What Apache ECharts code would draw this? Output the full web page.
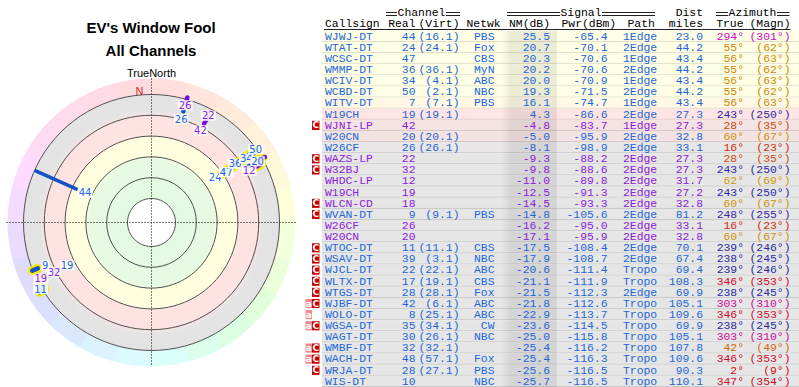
<!DOCTYPE html>
<html>
<head>
<meta charset="utf-8">
<title>EV's Window Fool</title>
<script src="https://cdn.jsdelivr.net/npm/echarts@6/dist/echarts.min.js"></script>
<style>
html,body{margin:0;padding:0;background:#ffffff;}
#chart{width:799px;height:387px;}
</style>
</head>
<body>
<div id="chart"></div>
<script>
// ---------------- DATA ----------------
const callsigns = ['WJWJ-DT','WTAT-DT','WCSC-DT','WMMP-DT','WCIV-DT','WCBD-DT','WITV-DT','W19CH','WJNI-LP','W20CN','W26CF','WAZS-LP','W32BJ','WHDC-LP','W19CH','WLCN-CD','WVAN-DT','W26CF','W20CN','WTOC-DT','WSAV-DT','WJCL-DT','WLTX-DT','WTGS-DT','WJBF-DT','WOLO-DT','WGSA-DT','WAGT-DT','WMBF-DT','WACH-DT','WRJA-DT','WIS-DT'];
const realCh = [44,24,47,36,34,50,7,19,42,20,26,22,32,12,19,18,9,26,20,11,39,22,17,28,42,8,35,30,32,48,28,10];
const virtCh = ['16.1','24.1','','36.1','4.1','2.1','7.1','19.1','','20.1','26.1','','','','','','9.1','','','11.1','3.1','22.1','19.1','28.1','6.1','25.1','34.1','26.1','32.1','57.1','27.1',''];
const networks = ['PBS','Fox','CBS','MyN','ABC','NBC','PBS','','','','','','','','','','PBS','','','CBS','NBC','ABC','CBS','Fox','ABC','ABC','CW','NBC','','Fox','PBS','NBC'];
const nmDb = [25.5,20.7,20.3,20.2,20.0,19.3,16.1,4.3,-4.8,-5.0,-8.1,-9.3,-9.8,-11.0,-12.5,-14.5,-14.8,-16.2,-17.1,-17.5,-17.9,-20.6,-21.1,-21.5,-21.8,-22.9,-23.6,-25.0,-25.4,-25.4,-25.6,-25.7];
const pwrDbm = [-65.4,-70.1,-70.6,-70.6,-70.9,-71.5,-74.7,-86.6,-83.7,-95.9,-98.9,-88.2,-88.6,-89.8,-91.3,-93.3,-105.6,-95.0,-95.9,-108.4,-108.7,-111.4,-111.9,-112.3,-112.6,-113.7,-114.5,-115.8,-116.2,-116.3,-116.5,-116.5];
const paths = ['1Edge','2Edge','1Edge','2Edge','1Edge','2Edge','1Edge','2Edge','1Edge','2Edge','2Edge','2Edge','2Edge','2Edge','2Edge','2Edge','2Edge','2Edge','2Edge','2Edge','2Edge','Tropo','Tropo','2Edge','Tropo','Tropo','Tropo','Tropo','Tropo','Tropo','Tropo','Tropo'];
const distMiles = [23.0,44.2,43.4,44.2,43.4,44.2,43.4,27.3,27.3,32.8,33.1,27.3,27.3,31.7,27.2,32.8,81.2,33.1,32.8,70.1,67.4,69.4,108.3,69.9,105.1,109.6,69.9,105.1,107.8,109.6,90.3,110.1];
const azTrue = [294,55,56,55,56,55,56,243,28,60,16,28,243,62,243,60,248,16,60,239,238,239,346,238,303,346,238,303,42,346,2,347];
const azMagn = [301,62,63,62,63,62,63,250,35,67,23,35,250,69,250,67,255,23,67,246,245,246,353,245,310,353,245,310,49,353,9,354];
const rowKind = ['b','b','b','b','b','b','b','b','p','b','b','p','p','p','p','p','b','p','p','b','b','b','b','b','b','b','b','b','b','b','b','b'];
const flags = ['','','','','','','','','C','','','C','C','','','C','C','','','C','C','C','C','C','aC','a','aC','','aC','aC','C',''];
const highlighted = ['WTAT-DT','WCSC-DT','WMMP-DT','WCIV-DT','WCBD-DT','WITV-DT','WHDC-LP','WLCN-CD','WVAN-DT','WTOC-DT','WSAV-DT'];
const ringLevels = [80, 60, 40, 20, 0, -20];   // NM(dB) rings of the polar plot
const strongDb = 10;                            // stations drawn as a ray to the outer ring

// ---------------- HELPERS ----------------
const MONO = '"Liberation Mono", "DejaVu Sans Mono", monospace';
const SANS = '"Liberation Sans", Arial, sans-serif';
const FS = 11.4;
const TXT_BLUE = '#1c66da', TXT_PURPLE = '#8a1cdc';
const MARK_BLUE = '#1552c6', MARK_PURPLE = '#7412cf';
const HALO = '#f2ec00';

function toHex(c){return '#'+c.map(v=>Math.round(Math.max(0,Math.min(255,v))).toString(16).padStart(2,'0')).join('');}
function fromHex(h){return [1,3,5].map(k=>parseInt(h.slice(k,k+2),16));}
function interp1(anchors, x){
  if (x <= anchors[0][0]) return anchors[0][1];
  for (let k=1;k<anchors.length;k++){ if (x<=anchors[k][0]){ const a=anchors[k-1], b=anchors[k]; return a[1]+(b[1]-a[1])*(x-a[0])/(b[0]-a[0]); } }
  return anchors[anchors.length-1][1];
}
function interpColor(stops, x){
  if (x <= stops[0][0]) return stops[0][1];
  for (let k=1;k<stops.length;k++){ if (x<=stops[k][0]){ const t=(x-stops[k-1][0])/(stops[k][0]-stops[k-1][0]); const a=fromHex(stops[k-1][1]), b=fromHex(stops[k][1]); return toHex(a.map((v,j)=>v+(b[j]-v)*t)); } }
  return stops[stops.length-1][1];
}
function hslHex(h,s,l){ s/=100; l/=100; const a=s*Math.min(l,1-l); const f=n=>{const k=(n+h/30)%12; return l-a*Math.max(-1,Math.min(k-3,9-k,1));}; return toHex([f(0),f(8),f(4)].map(v=>v*255)); }
const HUE_ANCHORS = [[0,0],[60,42],[120,100],[180,180],[240,240],[290,296],[305,318],[360,360]];
function azHue(az){ return interp1(HUE_ANCHORS, az) % 360; }
function azTextColor(az){ const h=azHue(az); return (h>=190 && h<=285) ? hslHex(h,62,40) : hslHex(h,92,42); }
function azPastel(az){ return hslHex(azHue(az),100,93); }
const ROW_BG = [[-8.5,'#e6e6e6'],[-4.5,'#f6e3e3'],[3,'#ffe4e4'],[12,'#ffebe4'],[18,'#ffffe6']];
function rowBg(nm){ return interpColor(ROW_BG, nm); }

const rowsIdx = callsigns.map((_,i)=>i);
const plotFloorDb = ringLevels[ringLevels.length-1];
const plotIdx = rowsIdx.filter(i => nmDb[i] >= plotFloorDb);
const hueSectors = []; for (let a=0; a<360; a+=15) hueSectors.push(a);

// ---------------- POLAR RENDERERS ----------------
function radOf(api, cs, db){ const p=api.coord([-db,0]); return Math.hypot(p[0]-cs.cx, p[1]-cs.cy); }

function renderBands(params, api){
  const cs=params.coordSys, cx=cs.cx, cy=cs.cy;
  const R = radOf(api, cs, plotFloorDb);
  const f = db => radOf(api, cs, db)/R;
  const stops = [
    [0,'#ffffff'],[f(80),'#ffffff'],[f(80)+0.003,'#e2fae2'],
    [f(40)-3/R,'#e7fbe2'],[f(40)+2/R,'#ffffe0'],
    [f(20)-2/R,'#ffffe0'],[f(20)+2/R,'#ffe3e3'],
    [f(0)-2/R,'#ffe3e3'],[f(0)+5/R,'#e4e4e4'],[1,'#e3e3e3']
  ].map(s=>({offset:Math.max(0,Math.min(1,s[0])), color:s[1]}));
  return {type:'circle', shape:{cx, cy, r:R}, silent:true,
    style:{fill:{type:'radial', x:cx, y:cy, r:R, global:true, colorStops:stops}}};
}
function renderHue(params, api){
  const cs=params.coordSys;
  const a0 = api.value(1);
  const R0 = radOf(api, cs, plotFloorDb);
  const s = (a0-90)*Math.PI/180, e = (a0+15-90)*Math.PI/180 + 0.004;
  return {type:'sector', silent:true, shape:{cx:cs.cx, cy:cs.cy, r0:R0, r:cs.r, startAngle:s, endAngle:e, clockwise:true},
    style:{fill: azPastel(a0+7.5)}};
}
function renderRings(params, api){
  const cs=params.coordSys;
  const r = radOf(api, cs, -api.value(0));
  return {type:'circle', silent:true, shape:{cx:cs.cx, cy:cs.cy, r}, style:{fill:'none', stroke:'#505050', lineWidth:1}};
}
function renderCross(params, api){
  const cs=params.coordSys, cx=cs.cx, cy=cs.cy, R=cs.r;
  return {type:'group', silent:true, children:[
    {type:'line', shape:{x1:cx, y1:cy-R, x2:cx, y2:cy+R}, style:{stroke:'#000', lineWidth:1, lineDash:[1,2]}},
    {type:'line', shape:{x1:cx-R-1, y1:cy, x2:cx+R+1, y2:cy}, style:{stroke:'#000', lineWidth:1, lineDash:[1,2]}},
    {type:'text', x:cx, y:cy-R-5.5, style:{text:'TrueNorth', font:'11px '+SANS, fill:'#000', align:'center', verticalAlign:'middle'}},
    {type:'text', x:cx-12, y:cy-131.5, style:{text:'N', font:'11px '+SANS, fill:'#e02828', align:'center', verticalAlign:'middle'}}
  ]};
}

let stationLayout = null;
function computeStationLayout(api, cs){
  const cx=cs.cx, cy=cs.cy, out={}, boxes=[];
  const maxR = cs.r - 8;
  plotIdx.forEach(i => {
    const p = api.coord([-nmDb[i], azTrue[i]]);
    const dx=p[0]-cx, dy=p[1]-cy, r1=Math.hypot(dx,dy);
    const ux=dx/r1, uy=dy/r1;
    const w = String(realCh[i]).length*5.5;
    let pos = null;
    for (let rr=r1-8; rr<=maxR; rr+=6){
      const x=cx+ux*rr, y=cy+uy*rr;
      const hit = boxes.some(b => {
        const ddx = Math.abs(x-b.x), ddy = Math.abs(y-b.y);
        const hLim = ddx < 6 ? 10 : 8;
        return ddx < (w+b.w)/2 && ddy < hLim;
      });
      if (!hit){ pos={x,y}; break; }
    }
    if (pos) boxes.push({x:pos.x, y:pos.y, w});
    out[i] = {p, ux, uy, label:pos};
  });
  return out;
}
function renderStation(params, api){
  if (params.dataIndexInside === 0 || !stationLayout) stationLayout = computeStationLayout(api, params.coordSys);
  const i = api.value(2);
  const L = stationLayout[i];
  const strong = nmDb[i] >= strongDb;
  const p1 = L.p;
  const p2 = strong ? api.coord([-plotFloorDb, azTrue[i]]) : [p1[0]+L.ux*6, p1[1]+L.uy*6];
  const purple = rowKind[i] === 'p';
  const kids = [];
  if (highlighted.includes(callsigns[i])) {
    kids.push({type:'line', z2:1, shape:{x1:p1[0],y1:p1[1],x2:p2[0],y2:p2[1]}, style:{stroke:HALO, lineWidth: strong?8:9, lineCap:'round'}});
  }
  kids.push({type:'line', z2:5, shape:{x1:p1[0],y1:p1[1],x2:p2[0],y2:p2[1]},
    style:{stroke: purple?MARK_PURPLE:MARK_BLUE, lineWidth: strong?3.5:4.5, lineCap: strong?'butt':'round'}});
  if (L.label) {
    kids.push({type:'text', z2:10, x:L.label.x, y:L.label.y, style:{text:String(realCh[i]), fill: purple?TXT_PURPLE:TXT_BLUE,
      font:'10px "DejaVu Sans", sans-serif', align:'center', verticalAlign:'middle', backgroundColor:'rgba(255,255,255,0.9)', padding:[0,1,0,1]}});
  }
  return {type:'group', children:kids};
}

// ---------------- TABLE RENDERER ----------------
const columns = [
  {x:325,   align:'left',  get:i=>callsigns[i]},
  {x:415.5, align:'right', get:i=>String(realCh[i])},
  {x:459.5, align:'right', get:i=>virtCh[i] ? '('+virtCh[i]+')' : ''},
  {x:494.5, align:'right', get:i=>networks[i]},
  {x:550,   align:'right', get:i=>nmDb[i].toFixed(1)},
  {x:607.5, align:'right', get:i=>pwrDbm[i].toFixed(1)},
  {x:623,   align:'left',  get:i=>paths[i]},
  {x:703,   align:'right', get:i=>distMiles[i].toFixed(1)},
  {x:744,   align:'right', get:i=>azTrue[i]+'°', az:true},
  {x:790.5, align:'right', get:i=>'('+azMagn[i]+'°)', az:true}
];
function renderRow(params, api){
  const i = params.dataIndex;
  const yc = api.coord([0, i])[1];
  const h = api.size([0, 1])[1];
  const top = yc - h/2;
  const kids = [];
  kids.push({type:'rect', shape:{x:322, y:top, width:477, height:h}, style:{fill:rowBg(nmDb[i])}});
  kids.push({type:'rect', shape:{x:503, y:top, width:54, height:h}, style:{fill:{type:'linear', x:0, y:0, x2:1, y2:0, colorStops:[
    {offset:0, color:'rgba(0,0,0,0.01)'},{offset:0.15, color:'rgba(0,0,0,0.075)'},{offset:1, color:'rgba(0,0,0,0.075)'}]}}});
  kids.push({type:'line', shape:{x1:322, y1:top+h-0.5, x2:799, y2:top+h-0.5}, style:{stroke:'rgba(0,0,0,0.13)', lineWidth:1}});
  const fl = flags[i];
  if (fl.indexOf('a') >= 0) {
    kids.push({type:'rect', shape:{x:305.5, y:top+1, width:6.5, height:h-2}, style:{fill:'#f08a8a'}});
    kids.push({type:'text', x:308.8, y:yc, style:{text:'a', fill:'#fff', font:'bold 9px "DejaVu Sans"', align:'center', verticalAlign:'middle'}});
  }
  if (fl.indexOf('C') >= 0) {
    kids.push({type:'rect', shape:{x:312, y:top+1, width:7.5, height:h-2}, style:{fill:'#c80000'}});
    kids.push({type:'text', x:315.8, y:yc, style:{text:'C', fill:'#fff', font:'bold 9px "DejaVu Sans"', align:'center', verticalAlign:'middle'}});
  }
  const rowColor = rowKind[i] === 'p' ? TXT_PURPLE : TXT_BLUE;
  columns.forEach(c => {
    const t = c.get(i);
    if (!t) return;
    kids.push({type:'text', x:c.x, y:yc+0.3, style:{text:t, fill: c.az ? azTextColor(azTrue[i]) : rowColor,
      font: FS+'px '+MONO, align:c.align, verticalAlign:'middle'}});
  });
  return {type:'group', children:kids};
}

// ---------------- HEADERS (graphic) ----------------
const headerFont = FS+'px '+MONO;
const hdr = [];
function htext(t, x, y, align){ hdr.push({type:'text', x, y, silent:true, style:{text:t, font:headerFont, fill:'#000', align, verticalAlign:'middle'}}); }
function dline(x1, x2){ [12.5, 15.5].forEach(y => hdr.push({type:'line', silent:true, shape:{x1, y1:y, x2, y2:y}, style:{stroke:'#222', lineWidth:1}})); }
htext('Channel', 421.5, 13, 'center'); dline(386, 397); dline(446, 460);
htext('Signal', 581, 13, 'center'); dline(507, 560); dline(602, 655);
htext('Dist', 703, 13, 'right');
htext('Azimuth', 752.5, 13, 'center'); dline(716, 728); dline(777, 789.5);
htext('Callsign', 325, 24.3, 'left');
htext('Real', 415.5, 24.3, 'right');
htext('(Virt)', 459.5, 24.3, 'right');
htext('Netwk', 466.5, 24.3, 'left');
htext('NM(dB)', 550, 24.3, 'right');
htext('Pwr(dBm)', 561.5, 24.3, 'left');
htext('Path', 627.5, 24.3, 'left');
htext('miles', 703, 24.3, 'right');
htext('True', 743.5, 24.3, 'right');
htext('(Magn)', 790.5, 24.3, 'right');
hdr.push({type:'line', silent:true, shape:{x1:324, y1:29.5, x2:790.5, y2:29.5}, style:{stroke:'#222', lineWidth:1}});
hdr.push({type:'text', x:151, y:27.5, silent:true, style:{text:"EV's Window Fool", font:'bold 15px '+SANS, fill:'#000', align:'center', verticalAlign:'middle'}});
hdr.push({type:'text', x:151, y:50, silent:true, style:{text:'All Channels', font:'bold 15px '+SANS, fill:'#000', align:'center', verticalAlign:'middle'}});

// ---------------- CHART ----------------
const chart = echarts.init(document.getElementById('chart'), null, {renderer:'svg'});
const hiddenAxis = {show:false, axisLine:{show:false}, axisTick:{show:false}, axisLabel:{show:false}, splitLine:{show:false}};
chart.setOption({
  animation:false,
  backgroundColor:'#ffffff',
  polar:{center:[151.5, 222.5], radius:144},
  angleAxis:Object.assign({type:'value', min:0, max:360, startAngle:90, clockwise:true}, hiddenAxis),
  radiusAxis:Object.assign({type:'value', min:-103.08, max:35.38}, hiddenAxis),
  grid:{left:322, top:30.8, width:477, height:358.4, show:false},
  xAxis:Object.assign({type:'value', min:0, max:1}, hiddenAxis),
  yAxis:Object.assign({type:'category', inverse:true, data:rowsIdx.map(String)}, hiddenAxis),
  graphic:{elements:hdr},
  series:[
    {type:'custom', name:'bands', coordinateSystem:'polar', z:1, silent:true, data:[[0,0]], renderItem:renderBands},
    {type:'custom', name:'hue', coordinateSystem:'polar', z:1, silent:true, data:hueSectors.map(a=>[0,a]), renderItem:renderHue},
    {type:'custom', name:'rings', coordinateSystem:'polar', z:2, silent:true, data:ringLevels.map(l=>[-l,0]), renderItem:renderRings},
    {type:'custom', name:'cross', coordinateSystem:'polar', z:3, silent:true, data:[[0,0]], renderItem:renderCross},
    {type:'custom', name:'stations', coordinateSystem:'polar', z:4, silent:true, encode:{radius:0, angle:1},
      data:plotIdx.map(i=>[-nmDb[i], azTrue[i], i]), renderItem:renderStation},
    {type:'custom', name:'table', coordinateSystem:'cartesian2d', z:2, silent:true, clip:false, encode:{x:0, y:1},
      data:rowsIdx.map(i=>[0, i]), renderItem:renderRow}
  ]
});
</script>
</body>
</html>
